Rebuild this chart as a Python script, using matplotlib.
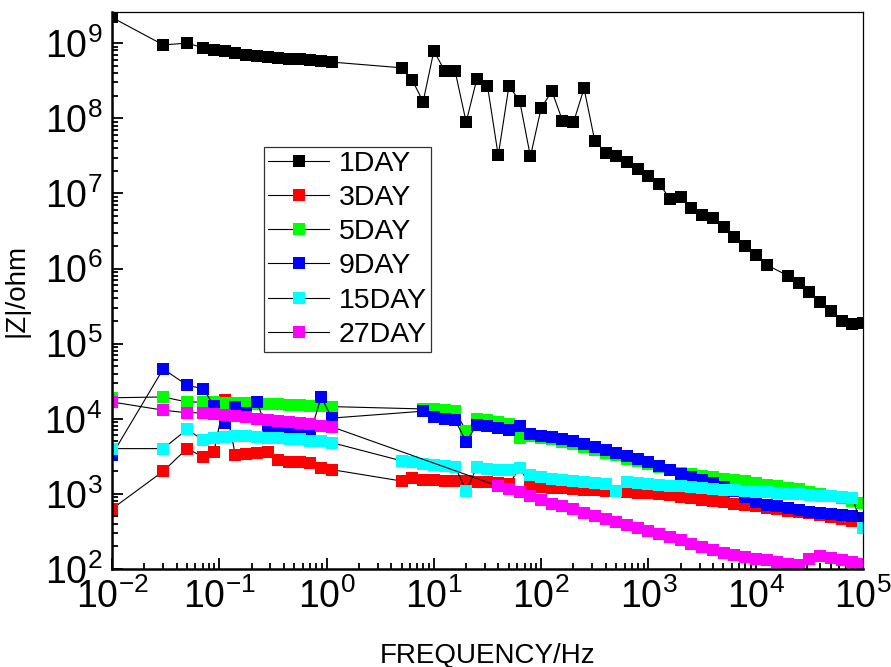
import matplotlib
matplotlib.use("Agg")
import matplotlib.pyplot as plt
import numpy as np
from matplotlib.ticker import LogLocator, FuncFormatter, NullFormatter

# frequency grid (Hz)
freq = [0.01, 0.03, 0.05, 0.071, 0.089, 0.112, 0.141, 0.178, 0.224, 0.282,
        0.355, 0.447, 0.562, 0.708, 0.891, 1.12,
        5.01, 6.31, 7.94, 10.0, 12.6, 15.8, 20.0, 25.1, 31.6, 39.8,
        50.1, 63.1, 79.4, 100, 126, 158, 200, 251, 316, 398,
        501, 631, 794, 1000, 1260, 1580, 2000, 2510, 3160, 3980,
        5010, 6310, 7940, 10000, 12600, 15800, 20000, 25100, 31600, 39800,
        50100, 63100, 79400, 100000]

nan = np.nan

day1 = [2.2e9, 9.5e8, 1.0e9, 8.7e8, 8.2e8, 7.8e8, 7.3e8, 7.0e8, 6.8e8, 6.6e8,
        6.4e8, 6.2e8, 6.1e8, 5.9e8, 5.8e8, 5.6e8,
        4.7e8, 3.2e8, 1.66e8, 7.9e8, 4.3e8, 4.2e8, 8.9e7, 3.3e8, 2.7e8, 3.2e7,
        2.7e8, 1.7e8, 3.1e7, 1.37e8, 2.3e8, 9.3e7, 8.8e7, 2.5e8, 5.0e7, 3.5e7,
        3.1e7, 2.6e7, 2.1e7, 1.7e7, 1.35e7, 8.5e6, 9.0e6, 6.4e6, 5.2e6, 4.7e6,
        3.6e6, 2.6e6, 2.0e6, 1.5e6, 1.12e6, nan, 8.0e5, 6.4e5, 4.9e5, 3.6e5,
        2.7e5, 2.0e5, 1.8e5, 1.9e5]

day3 = [630, 2000, 4000, 3100, 3600, 17500, 3300, 3400, 3500, 3600,
        2800, 2650, 2650, 2600, 2200, 2100,
        1480, 1620, 1550, 1550, 1500, 1500, 1500, 1450, 1450, 1400,
        1350, 2200, 1300, 1250, 1200, 1180, 1160, 1140, 1120, 1100,
        1080, 1060, 1040, 1020, 990, 960, 920, 880, 840, 800,
        770, 740, 710, 680, 650, 630, 600, 580, 550, 520,
        490, 460, 430, 410]

day5 = [19000, 19500, 16700, 16700, 16500, 16300, 16200, 16000, 15800, 15700,
        15500, 15300, 15200, 15000, 14800, 14500,
        nan, nan, 13500, 13500, 13000, 12500, 6900, 10000, 9600, 9000,
        8500, 5500, 5800, 5500, 5300, 4950, 4650, 4250, 3880, 3550,
        3250, 2950, 2700, 2480, 2250, 2050, 1900, 1820, 1750, 1680,
        1600, 1530, 1460, 1400, 1320, 1260, 1200, 1150, 1070, 1000,
        933, 871, 813, 759]

day9 = [3300, 46000, 28000, 25000, 15000, 8700, 14500, 12000, 16500, 7100,
        7100, 7000, 6600, 6600, 19500, 10200,
        nan, nan, 12600, 10500, 10000, 9600, 4900, 8300, 8000, 7600,
        7100, 8000, 6200, 5900, 5750, 5370, 5010, 4570, 4170, 3800,
        3470, 3160, 2880, 2630, 2350, 2100, 1850, 1700, 1550, 1400,
        1250, 1100, 900, 780, 720, 680, 640, 610, 580, 560,
        540, 520, 500, 480]

day15 = [4000, 4000, 7200, 5200, 5500, 5700, 5800, 5800, 5700, 5600,
         5500, 5400, 5300, 5100, 5000, 4800,
         2750, 2650, 2500, 2400, 2350, 2300, 1100, 2250, 2150, 2100,
         2050, 2200, 1800, 1700, 1600, 1550, 1500, 1450, 1400, 1350,
         1100, 1450, 1400, 1350, 1320, 1290, 1260, 1230, 1200, 1170,
         1140, 1110, 1090, 1070, 1050, 1030, 1010, 990, 970, 950,
         930, 910, 880, 350]

day27 = [16700, 13000, 12000, 12000, 11600, 11200, 10800, 10400, 10000, 9700,
         9300, 9000, 8700, 8400, 8100, 7800,
         nan, nan, nan, nan, nan, nan, nan, nan, nan, 1270,
         1150, 1050, 940, 830, 740, 680, 620, 560, 510, 460,
         420, 380, 350, 320, 290, 265, 240, 215, 195, 180,
         165, 155, 145, 137, 130, 124, 118, 114, 135, 148,
         140, 132, 125, 118]

labels = ['1DAY', '3DAY', '5DAY', '9DAY', '15DAY', '27DAY']
colors = ['#000000', '#ff0000', '#00ff00', '#0000ff', '#00ffff', '#ff00ff']
series = [day1, day3, day5, day9, day15, day27]

plt.rcParams['font.family'] = ['Liberation Sans', 'DejaVu Sans']
plt.rcParams['mathtext.default'] = 'regular'

fig = plt.figure(figsize=(8.91, 6.67), dpi=100)
ax = fig.add_axes([0.1257, 0.147, 0.8429, 0.835])

f = np.array(freq)
for z, lab, col in zip(series, labels, colors):
    z = np.array(z, dtype=float)
    m = ~np.isnan(z)
    ax.plot(f[m], z[m], '-', color='k', lw=0.8, marker='s', ms=8.8,
            mfc=col, mec=col, mew=0, label=lab)

ax.set_xscale('log')
ax.set_yscale('log')
ax.set_xlim(1e-2, 1e5)
ax.set_ylim(1e2, 2.6e9)

fmt = FuncFormatter(lambda v, p: r'$\mathregular{10^{%d}}$' % round(np.log10(v)))
ax.xaxis.set_major_locator(LogLocator(base=10, numticks=20))
ax.yaxis.set_major_locator(LogLocator(base=10, numticks=20))
ax.xaxis.set_minor_locator(LogLocator(base=10, subs=np.arange(2, 10), numticks=20))
ax.yaxis.set_minor_locator(LogLocator(base=10, subs=np.arange(2, 10), numticks=20))
ax.xaxis.set_major_formatter(fmt)
ax.yaxis.set_major_formatter(fmt)
ax.xaxis.set_minor_formatter(NullFormatter())
ax.yaxis.set_minor_formatter(NullFormatter())

ax.tick_params(which='both', direction='in', top=False, right=False,
               labelsize=27, width=1.3)
ax.tick_params(which='major', length=8, pad=7)
ax.tick_params(which='minor', length=4.5)

ax.spines['left'].set_linewidth(1.8)
ax.spines['bottom'].set_linewidth(1.8)
ax.spines['top'].set_linewidth(0.9)
ax.spines['right'].set_linewidth(0.9)

ax.set_xlabel('FREQUENCY/Hz', fontsize=20, labelpad=19)
ax.set_ylabel('|Z|/ohm', fontsize=20, labelpad=11)

leg = ax.legend(loc='upper left', bbox_to_anchor=(0.2024, 0.758),
                borderaxespad=0, frameon=True, fancybox=False, edgecolor='k',
                handlelength=2.15, handletextpad=0.32, labelspacing=0.285,
                borderpad=0.15, prop={'size': 20.5})
leg.get_frame().set_linewidth(0.9)

fig.savefig('out.png', dpi=100)
